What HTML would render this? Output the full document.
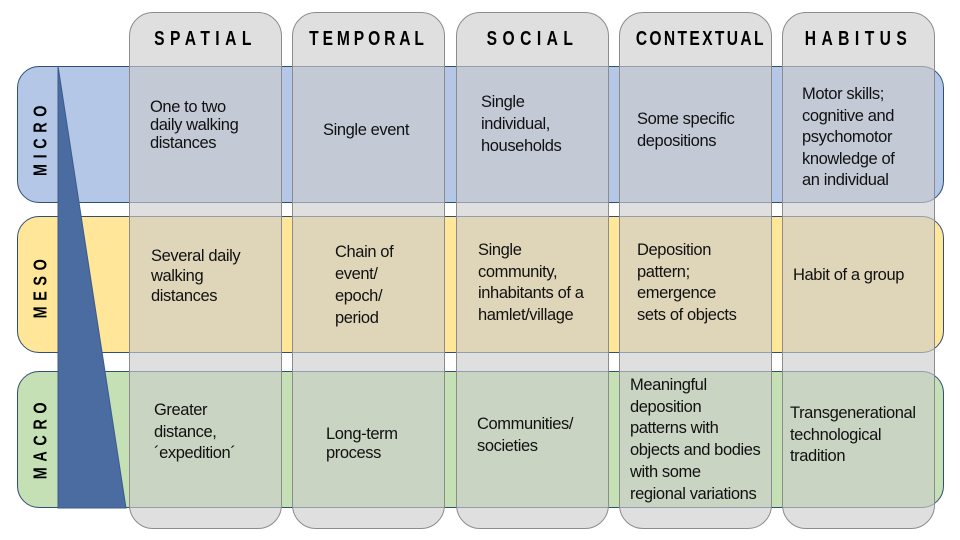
<!DOCTYPE html>
<html><head><style>
body{margin:0;width:960px;height:540px;background:#fff;position:relative;overflow:hidden;font-family:"Liberation Sans",sans-serif;}
.row{position:absolute;left:17px;width:927px;height:137px;border:1.3px solid #2f4f75;border-radius:22px;box-sizing:border-box;}
.col{position:absolute;top:12px;height:517px;width:153px;border:1.3px solid #8c8c8c;border-radius:24px;box-sizing:border-box;background:rgba(204,204,204,0.63);}
.hd{position:absolute;top:28px;font-weight:bold;font-size:20px;letter-spacing:7px;text-align:center;color:#000;transform:scaleX(0.78);white-space:nowrap;}
.t{position:absolute;font-size:16.5px;color:#111;letter-spacing:-0.4px;}
.rl{position:absolute;left:41px;font-weight:bold;font-size:18px;letter-spacing:7px;transform:translate(-50%,-50%) rotate(-90deg) scaleX(0.8);white-space:nowrap;}
</style></head><body>
<div class="row" style="top:66px;background:#b4c7e7"></div>
<div class="row" style="top:216px;background:#ffe699"></div>
<div class="row" style="top:371px;background:#c5e0b4"></div>
<svg style="position:absolute;left:0;top:0" width="960" height="540"><polygon points="58,66 58,508 126,508" fill="#4a6ca0" stroke="#3d5b8a" stroke-width="1"/></svg>
<div class="rl" style="top:138px;">MICRO</div>
<div class="rl" style="top:286px;">MESO</div>
<div class="rl" style="top:438px;">MACRO</div>
<div class="col" style="left:129px"></div>
<div class="col" style="left:292px"></div>
<div class="col" style="left:456px"></div>
<div class="col" style="left:619px"></div>
<div class="col" style="left:782px"></div>
<div class="hd" style="left:129px;width:153px">SPATIAL</div>
<div class="hd" style="left:292px;width:153px;letter-spacing:5px">TEMPORAL</div>
<div class="hd" style="left:456px;width:153px">SOCIAL</div>
<div class="hd" style="left:619px;width:153px;letter-spacing:3px">CONTEXTUAL</div>
<div class="hd" style="left:782px;width:153px">HABITUS</div>

<div class="t" style="left:150px;top:98px;line-height:18px">One to two<br>daily walking<br>distances</div>
<div class="t" style="left:323px;top:120px;line-height:20px">Single event</div>
<div class="t" style="left:481px;top:91px;line-height:22px">Single<br>individual,<br>households</div>
<div class="t" style="left:637px;top:108px;line-height:22px">Some specific<br>depositions</div>
<div class="t" style="left:802px;top:84px;line-height:21.5px">Motor skills;<br>cognitive and<br>psychomotor<br>knowledge of<br>an individual</div>

<div class="t" style="left:151px;top:246px;line-height:20px">Several daily<br>walking<br>distances</div>
<div class="t" style="left:335px;top:241px;line-height:22px">Chain of<br>event/<br>epoch/<br>period</div>
<div class="t" style="left:478px;top:240px;line-height:21.5px">Single<br>community,<br>inhabitants of a<br>hamlet/village</div>
<div class="t" style="left:637px;top:240px;line-height:21.5px">Deposition<br>pattern;<br>emergence<br>sets of objects</div>
<div class="t" style="left:793px;top:265px;line-height:20px">Habit of a group</div>

<div class="t" style="left:154px;top:400px;line-height:21.5px">Greater<br>distance,<br>´expedition´</div>
<div class="t" style="left:326px;top:425px;line-height:19px">Long-term<br>process</div>
<div class="t" style="left:477px;top:413px;line-height:22px">Communities/<br>societies</div>
<div class="t" style="left:630px;top:375px;line-height:21.7px">Meaningful<br>deposition<br>patterns with<br>objects and bodies<br>with some<br>regional variations</div>
<div class="t" style="left:790px;top:403px;line-height:21.5px">Transgenerational<br>technological<br>tradition</div>
</body></html>
